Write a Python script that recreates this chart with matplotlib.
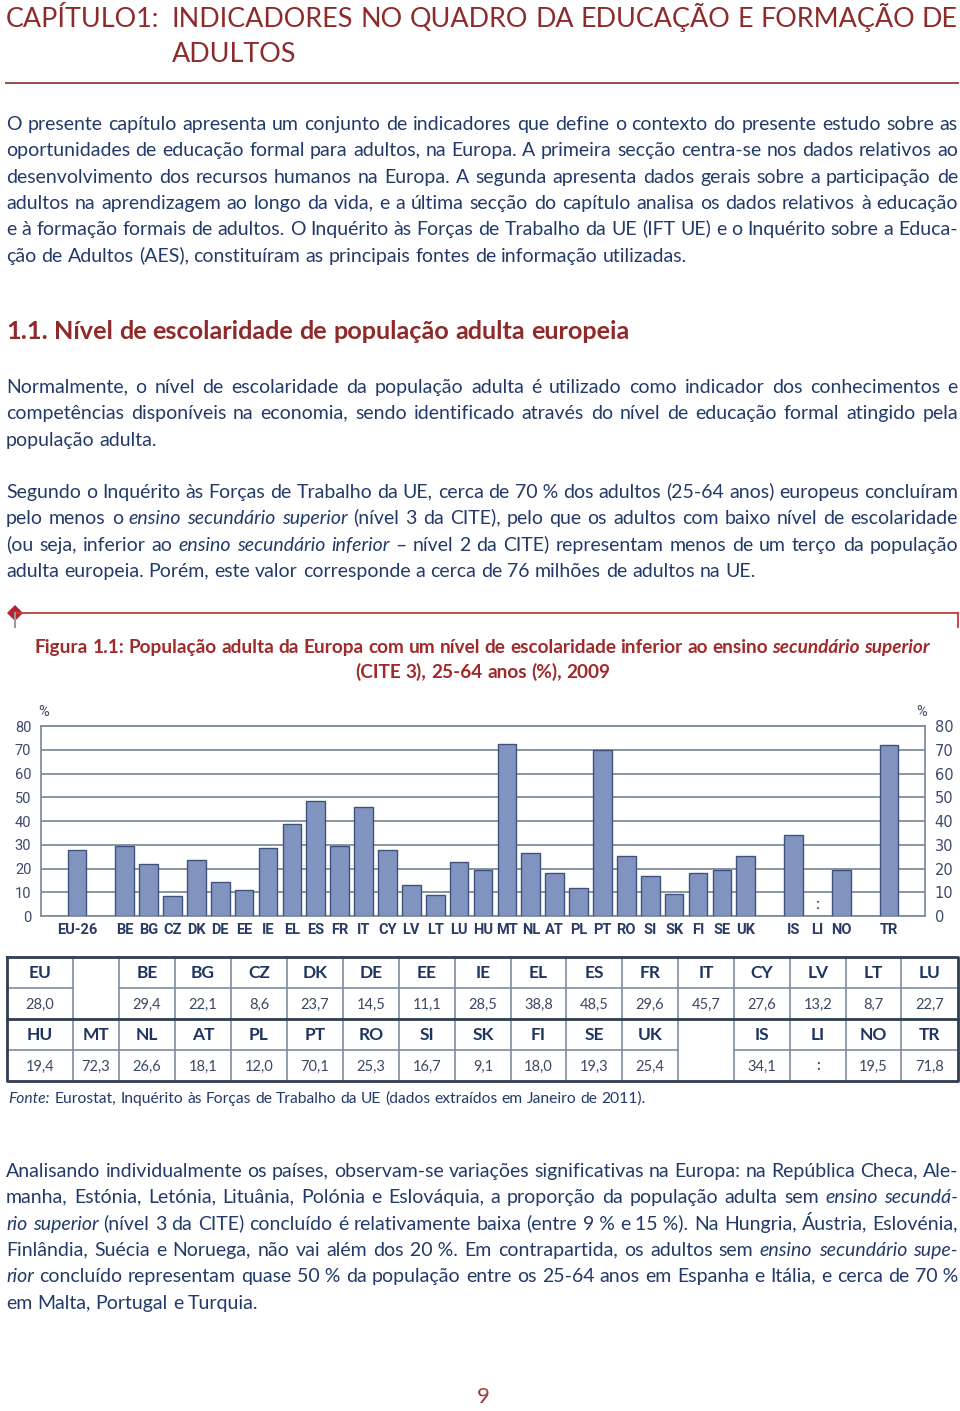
import matplotlib
matplotlib.use('Agg')
import numpy as np
import matplotlib.pyplot as plt
from matplotlib.patches import Polygon
from matplotlib.transforms import IdentityTransform

# ---------------- data ----------------
chart_countries = ['EU-26',
                   'BE', 'BG', 'CZ', 'DK', 'DE', 'EE', 'IE', 'EL', 'ES', 'FR', 'IT', 'CY', 'LV', 'LT',
                   'LU', 'HU', 'MT', 'NL', 'AT', 'PL', 'PT', 'RO', 'SI', 'SK', 'FI', 'SE', 'UK',
                   'IS', 'LI', 'NO',
                   'TR']
chart_values = [28.0,
                29.4, 22.1, 8.6, 23.7, 14.5, 11.1, 28.5, 38.8, 48.5, 29.6, 45.7, 27.6, 13.2, 8.7,
                22.7, 19.4, 72.3, 26.6, 18.1, 12.0, 70.1, 25.3, 16.7, 9.1, 18.0, 19.3, 25.4,
                34.1, None, 19.5,
                71.8]
chart_group_sizes = [1, 27, 3, 1]
y_ticks = [0, 10, 20, 30, 40, 50, 60, 70, 80]

table_top_labels = ['EU', None, 'BE', 'BG', 'CZ', 'DK', 'DE', 'EE', 'IE', 'EL', 'ES', 'FR',
                    'IT', 'CY', 'LV', 'LT', 'LU']
table_top_values = [28.0, None, 29.4, 22.1, 8.6, 23.7, 14.5, 11.1, 28.5, 38.8, 48.5, 29.6,
                    45.7, 27.6, 13.2, 8.7, 22.7]
table_bottom_labels = ['HU', 'MT', 'NL', 'AT', 'PL', 'PT', 'RO', 'SI', 'SK', 'FI', 'SE', 'UK',
                       None, 'IS', 'LI', 'NO', 'TR']
table_bottom_values = [19.4, 72.3, 26.6, 18.1, 12.0, 70.1, 25.3, 16.7, 9.1, 18.0, 19.3, 25.4,
                       None, 34.1, None, 19.5, 71.8]

# ---------------- style ----------------
W, H = 960, 1411
BODY = ['Lato', 'DejaVu Sans']
COND = ['Liberation Sans Narrow', 'DejaVu Sans Condensed', 'Roboto', 'DejaVu Sans']
RED = '#8e2a2a'
NAVY = '#223a6a'
TBL = '#1e3560'

fig = plt.figure(figsize=(W / 100, H / 100), dpi=100)
renderer = fig.canvas.get_renderer()

bg = fig.add_axes([0, 0, 1, 1])
bg.set_xlim(0, W)
bg.set_ylim(H, 0)
bg.axis('off')

# scratch figure used only to check where glyphs land vertically (not saved)
_tf = plt.figure(figsize=(9.0, 1.2), dpi=100)
_TH = 120
_mcache = {}
_vcache = {}


def measure(s, size, weight='normal', style='normal', family=BODY):
    key = (s, size, weight, style)
    if key in _mcache:
        return _mcache[key]
    t = fig.text(0, 0, s, fontsize=size, fontweight=weight, fontstyle=style, family=family)
    w = t.get_window_extent(renderer).width
    t.remove()
    _mcache[key] = w
    return w


def _top_ink(s, size, weight, style, family, ytd, ncols):
    t = _tf.text(10, _TH - ytd, s, transform=IdentityTransform(), fontsize=size,
                 fontweight=weight, fontstyle=style, family=family, color='black',
                 ha='left', va='baseline')
    _tf.canvas.draw()
    arr = np.asarray(_tf.canvas.buffer_rgba())[:, :, 0]
    t.remove()
    cols = arr[:, 8:10 + max(2, ncols)]
    rows = np.where((cols < 170).any(axis=1))[0]
    return rows[0] if len(rows) else None


def vshift(s, size, weight, style, family, y):
    frac = round(y - np.floor(y), 3)
    key = (s, size, weight, style, frac)
    if key in _vcache:
        return _vcache[key]
    ncols = int(measure(s, size, weight, style, family)) - 2
    a = _top_ink(s, size, weight, style, family, 60 + frac, ncols)
    b = _top_ink(s + 'p', size, weight, style, family, 60 + frac, ncols)
    d = 0 if (a is None or b is None) else int(a - b)
    _vcache[key] = d
    return d


def space_w(size, weight='normal', family=BODY):
    return measure('n n', size, weight, 'normal', family) - measure('nn', size, weight, 'normal', family)


def split_words(segs):
    out = []
    for txt, st in segs:
        for w in txt.split(' '):
            if w:
                out.append((w, st))
    return out


def nat_gap(a, sa, b, sb, size, weight, family=BODY):
    if sa == sb:
        return measure(a + ' ' + b, size, weight, sa, family) - measure(a, size, weight, sa, family) \
            - measure(b, size, weight, sa, family)
    return space_w(size, weight, family) + 1.0


def natural(segs, size, weight='normal', family=BODY, gapf=1.0):
    words = split_words(segs)
    tot = sum(measure(w, size, weight, st, family) for w, st in words)
    return tot + (len(words) - 1) * space_w(size, weight, family) * gapf


def draw_line(segs, x0, y, size, color, weight='normal', x1=None, family=BODY, center=None):
    words = split_words(segs)
    widths = [measure(w, size, weight, st, family) for w, st in words]
    n = len(words)
    if x1 is not None and n > 1:
        g = (x1 - x0 - sum(widths)) / (n - 1)
        gaps = [g] * (n - 1)
    else:
        gaps = [nat_gap(words[k][0], words[k][1], words[k + 1][0], words[k + 1][1], size, weight, family)
                for k in range(n - 1)]
    if center is not None:
        x0 = center - (sum(widths) + sum(gaps)) / 2
    x = x0
    for k, (w, st) in enumerate(words):
        dy = vshift(w, size, weight, st, family, y)
        bg.text(x, y - dy, w, fontsize=size, fontweight=weight, fontstyle=st, family=family,
                color=color, ha='left', va='baseline')
        if k < n - 1:
            x += widths[k] + gaps[k]


N, I = 'normal', 'italic'

# ---------------- header ----------------
head_rest = 'INDICADORES NO QUADRO DA EDUCAÇÃO E FORMAÇÃO DE'
hs = 18.5
hs = round(hs * 786 / natural([(head_rest, N)], hs, gapf=1.0), 2)
draw_line([('CAPÍTULO1:', N)], 6, 27, hs, RED)
draw_line([(head_rest, N)], 172, 27, hs, RED, x1=958)
draw_line([('ADULTOS', N)], 172, 62, hs, RED)
bg.plot([6, 958], [83, 83], color='#9c4a4a', lw=1.4)

# ---------------- body paragraphs ----------------
p1 = [
    [('O presente capítulo apresenta um conjunto de indicadores que define o contexto do presente estudo sobre as', N)],
    [('oportunidades de educação formal para adultos, na Europa. A primeira secção centra-se nos dados relativos ao', N)],
    [('desenvolvimento dos recursos humanos na Europa. A segunda apresenta dados gerais sobre a participação de', N)],
    [('adultos na aprendizagem ao longo da vida, e a última secção do capítulo analisa os dados relativos à educação', N)],
    [('e à formação formais de adultos. O Inquérito às Forças de Trabalho da UE (IFT UE) e o Inquérito sobre a Educa-', N)],
    [('ção de Adultos (AES), constituíram as principais fontes de informação utilizadas.', N)],
]
p2 = [
    [('Normalmente, o nível de escolaridade da população adulta é utilizado como indicador dos conhecimentos e', N)],
    [('competências disponíveis na economia, sendo identificado através do nível de educação formal atingido pela', N)],
    [('população adulta.', N)],
]
p3 = [
    [('Segundo o Inquérito às Forças de Trabalho da UE, cerca de 70\u00a0% dos adultos (25-64 anos) europeus concluíram', N)],
    [('pelo menos o ', N), ('ensino secundário superior', I), (' (nível 3 da CITE), pelo que os adultos com baixo nível de escolaridade', N)],
    [('(ou seja, inferior ao ', N), ('ensino secundário inferior', I), (' – nível 2 da CITE) representam menos de um terço da população', N)],
    [('adulta europeia. Porém, este valor corresponde a cerca de 76 milhões de adultos na UE.', N)],
]
p4 = [
    [('Analisando individualmente os países, observam-se variações significativas na Europa: na República Checa, Ale-', N)],
    [('manha, Estónia, Letónia, Lituânia, Polónia e Eslováquia, a proporção da população adulta sem ', N), ('ensino secundá-', I)],
    [('rio superior', I), (' (nível 3 da CITE) concluído é relativamente baixa (entre 9\u00a0% e 15\u00a0%). Na Hungria, Áustria, Eslovénia,', N)],
    [('Finlândia, Suécia e Noruega, não vai além dos 20\u00a0%. Em contrapartida, os adultos sem ', N), ('ensino secundário supe-', I)],
    [('rior', I), (' concluído representam quase 50\u00a0% da população entre os 25-64 anos em Espanha e Itália, e cerca de 70\u00a0%', N)],
    [('em Malta, Portugal e Turquia.', N)],
]

bs = 14.0
need = max(natural(l, bs, gapf=0.8) for p in (p1, p2, p3, p4) for l in p[:-1])
bs = round(bs * min(1.0, 952 / need), 2)


def draw_par(par, y0, step=26.35):
    for k, segs in enumerate(par):
        last = k == len(par) - 1
        draw_line(segs, 6, y0 + k * step, bs, NAVY, x1=None if last else 958)


draw_par(p1, 130)
draw_par(p2, 393)
draw_par(p3, 498)
draw_par(p4, 1177)

# section heading
sec = '1.1. Nível de escolaridade de população adulta europeia'
ss = 17
ss = round(ss * 626 / natural([(sec, N)], ss, 'bold'), 2)
draw_line([(sec, N)], 6, 339, ss, RED, weight='bold')

# ---------------- separator ----------------
bg.plot([15, 958], [613, 613], color='#c43c3c', lw=1.3)
bg.plot([958, 958], [613, 627], color='#c43c3c', lw=1.3)
bg.plot([15, 15], [613, 627], color='#9a9a9a', lw=1.5)
bg.add_patch(Polygon([[15, 605], [23, 613], [15, 621], [7, 613]], closed=True,
                     facecolor='#b3262a', edgecolor='none'))

# ---------------- figure title ----------------
t1 = [('Figura 1.1: População adulta da Europa com um nível de escolaridade inferior ao ensino ', N),
      ('secundário superior', I)]
ts = 13
ts = round(ts * 895 / natural(t1, ts, 'bold'), 2)
draw_line(t1, 35, 653, ts, '#a02a2a', weight='bold', x1=930)
draw_line([('(CITE 3), 25-64 anos (%), 2009', N)], 0, 678, ts, '#a02a2a', weight='bold', center=483)

# ---------------- bar chart ----------------
positions = []
p = 0
for g in chart_group_sizes:
    for _ in range(g):
        positions.append(p)
        p += 1
    p += 1

ax = fig.add_axes([41 / W, 1 - 916 / H, (925 - 41) / W, (916 - 726) / H])
ax.patch.set_alpha(0)
bar_x = [x for x, v in zip(positions, chart_values) if v is not None]
bar_v = [v for v in chart_values if v is not None]
ax.bar(bar_x, bar_v, width=0.78, color='#8194c0', edgecolor='#3e527c', linewidth=1.0, zorder=3)
for x, v in zip(positions, chart_values):
    if v is None:
        ax.text(x, 4.5, ':', ha='center', va='center', fontsize=11, fontweight='bold',
                family=COND, color='#2a3c66', zorder=4)
ax.set_xlim(positions[0] - 1.5, positions[-1] + 1.5)
ax.set_ylim(0, 80)
ax.set_yticks(y_ticks)
ax.yaxis.grid(True, color='#808d9c', linewidth=1.3, zorder=0)
ax.set_axisbelow(True)
ax.set_xticks(positions)
ax.set_xticklabels(chart_countries, fontsize=10.5, fontweight='bold', family=COND, color='#2a3c66')
for lab in ax.get_yticklabels():
    lab.set_family(COND)
ax.tick_params(axis='y', left=False, right=False, labelleft=True, labelright=True,
               labelsize=10.5, labelcolor='#3c4a6b', length=0, pad=7)
ax.tick_params(axis='x', bottom=False, length=0, pad=5)
for sp in ax.spines.values():
    sp.set_color('#808d9c')
    sp.set_linewidth(1.3)
bg.text(44, 712, '%', fontsize=10.5, family=COND, color='#3c4a6b', ha='center', va='center')
bg.text(922, 712, '%', fontsize=10.5, family=COND, color='#3c4a6b', ha='center', va='center')

# ---------------- table ----------------
xs = [7, 72.7, 119, 175, 231, 287, 343, 399, 455, 511, 566, 622, 678, 734, 790, 846, 901, 958]
ys = [957, 988, 1019, 1050, 1081]
thin = dict(color='#7f8ea3', lw=1.2)
thick = dict(color='#2f3d52', lw=2.0)


def fmt(v):
    return f'{v:.1f}'.replace('.', ',')


rows = [(table_top_labels, table_top_values, 0), (table_bottom_labels, table_bottom_values, 2)]
for labels, values, r in rows:
    for c, (lab, val) in enumerate(zip(labels, values)):
        xa, xb = xs[c], xs[c + 1]
        if lab is None:
            continue
        bg.plot([xa, xb], [ys[r + 1], ys[r + 1]], **thin)
        cx = (xa + xb) / 2
        bg.text(cx, (ys[r] + ys[r + 1]) / 2 + 1, lab, fontsize=12.5, fontweight='bold', family=BODY,
                color=TBL, ha='center', va='center')
        bg.text(cx, (ys[r + 1] + ys[r + 2]) / 2 + 1, fmt(val) if val is not None else ':',
                fontsize=10.5, family=BODY, color='#3b4862', ha='center', va='center',
                fontweight='bold' if val is None else 'normal')
for x in xs[1:-1]:
    bg.plot([x, x], [ys[0], ys[-1]], **thin)
bg.plot([xs[0], xs[-1]], [ys[2], ys[2]], **thick)
bg.plot([xs[0], xs[-1], xs[-1], xs[0], xs[0]], [ys[0], ys[0], ys[-1], ys[-1], ys[0]], **thick)

# source
src = [('Fonte:', I), (' Eurostat, Inquérito às Forças de Trabalho da UE (dados extraídos em Janeiro de 2011).', N)]
fs = 11
fs = round(fs * 635 / natural(src, fs), 2)
draw_line(src, 8, 1103, fs, NAVY)

# page number
bg.text(483, 1403, '9', fontsize=16, family=BODY, color='#9a3a3a', ha='center', va='baseline')

plt.close(_tf)
fig.savefig('out.png', dpi=100)
